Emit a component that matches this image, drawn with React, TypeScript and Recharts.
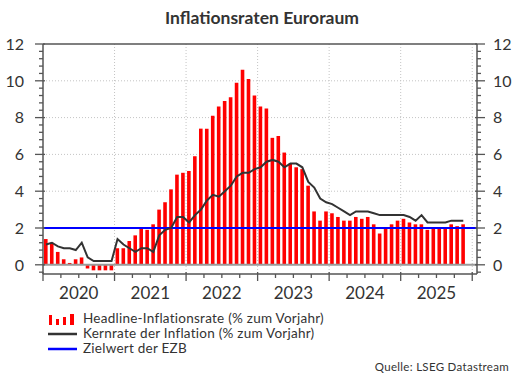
import { ComposedChart, Bar, Line, XAxis, YAxis, CartesianGrid, ReferenceLine } from 'recharts';

// HICP euro area, % yoy, monthly Jan 2020 – Nov 2025
const headline = [
  1.4, 1.2, 0.7, 0.3, 0.1, 0.3, 0.4, -0.2, -0.3, -0.3, -0.3, -0.3,
  0.9, 0.9, 1.3, 1.6, 2.0, 1.9, 2.2, 3.0, 3.4, 4.1, 4.9, 5.0,
  5.1, 5.9, 7.4, 7.4, 8.1, 8.6, 8.9, 9.1, 9.9, 10.6, 10.1, 9.2,
  8.6, 8.5, 6.9, 7.0, 6.1, 5.5, 5.3, 5.2, 4.3, 2.9, 2.4, 2.9,
  2.8, 2.6, 2.4, 2.4, 2.6, 2.5, 2.6, 2.2, 1.7, 2.0, 2.2, 2.4,
  2.5, 2.3, 2.2, 2.2, 1.9, 2.0, 2.0, 2.0, 2.2, 2.1, 2.2,
];

const core = [
  1.1, 1.2, 1.0, 0.9, 0.9, 0.8, 1.2, 0.4, 0.2, 0.2, 0.2, 0.2,
  1.4, 1.1, 0.9, 0.7, 0.9, 0.9, 0.7, 1.6, 1.9, 2.0, 2.6, 2.6,
  2.3, 2.7, 3.0, 3.5, 3.8, 3.7, 4.0, 4.3, 4.8, 5.0, 5.0, 5.2,
  5.3, 5.6, 5.7, 5.6, 5.3, 5.5, 5.5, 5.3, 4.5, 4.2, 3.6, 3.4,
  3.3, 3.1, 2.9, 2.7, 2.9, 2.9, 2.9, 2.8, 2.7, 2.7, 2.7, 2.7,
  2.7, 2.6, 2.4, 2.7, 2.3, 2.3, 2.3, 2.3, 2.4, 2.4, 2.4,
];

const ecbTarget = 2;
const years = ['2020', '2021', '2022', '2023', '2024', '2025'];

// month index ticks (quarters), year boundaries and y ticks
const xTicks = [0, 3, 6, 9, 12, 15, 18, 21, 24, 27, 30, 33, 36, 39, 42, 45, 48, 51, 54, 57, 60, 63, 66, 69, 72];
const yearStarts = [12, 24, 36, 48, 60, 72];
const yTicks = [
  -0.4, 0, 0.4, 0.8, 1.2, 1.6, 2, 2.4, 2.8, 3.2, 3.6, 4, 4.4, 4.8, 5.2, 5.6, 6,
  6.4, 6.8, 7.2, 7.6, 8, 8.4, 8.8, 9.2, 9.6, 10, 10.4, 10.8, 11.2, 11.6, 12,
];
const yGrid = [2, 4, 6, 8, 10];

const data = headline.map((h, i) => ({ m: i + 0.5, headline: h, core: core[i] }));

const AXIS = '#555';
const TEXT = '#333';
const FONT = 'Lato, sans-serif';

function YTick(props: any) {
  const { x, y, payload, side } = props;
  const v = payload.value;
  const major = Math.round(v * 10) % 20 === 0;
  const left = side === 'left';
  const len = major ? 8 : 4;
  return (
    <g>
      <line
        x1={left ? x - len : x + len}
        x2={left ? x + (major ? 2 : 0) : x - (major ? 2 : 0)}
        y1={y}
        y2={y}
        stroke={AXIS}
        strokeWidth={1.3}
      />
      {major && (
        <text
          x={left ? x - 19 : x + 16}
          y={y}
          dy="0.36em"
          textAnchor={left ? 'end' : 'start'}
          fontSize={16}
          fontFamily={FONT}
          fill={TEXT}
        >
          {v}
        </text>
      )}
    </g>
  );
}

function XTick(props: any) {
  const { x, y, payload } = props;
  const v = payload.value;
  const major = v % 12 === 0;
  return (
    <g>
      <line x1={x} x2={x} y1={y - (major ? 2 : 0)} y2={y + (major ? 7 : 4)} stroke={AXIS} strokeWidth={1.3} />
      {v % 12 === 6 && (
        <text x={x} y={y + 25} textAnchor="middle" fontSize={17} fontFamily={FONT} fill={TEXT}>
          {years[(v - 6) / 12]}
        </text>
      )}
    </g>
  );
}

function LegendIcon({ kind }: { kind: string }) {
  if (kind === 'bars') {
    return (
      <svg width={32} height={12}>
        <rect x={2} y={2} width={3} height={10} fill="#ff0000" />
        <rect x={9} y={6} width={3} height={6} fill="#ff0000" />
        <rect x={16} y={4} width={3} height={8} fill="#ff0000" />
        <rect x={23} y={1} width={4} height={11} fill="#ff0000" />
      </svg>
    );
  }
  return (
    <svg width={32} height={12}>
      <line x1={1} x2={30} y1={6} y2={6} stroke={kind === 'core' ? '#333' : '#0000ff'} strokeWidth={2.5} />
    </svg>
  );
}

const legendItems = [
  { kind: 'bars', label: 'Headline-Inflationsrate (% zum Vorjahr)' },
  { kind: 'core', label: 'Kernrate der Inflation (% zum Vorjahr)' },
  { kind: 'target', label: 'Zielwert der EZB' },
];

export default function App() {
  return (
    <div style={{ position: 'absolute', left: 0, top: 0, width: 520, height: 378, background: '#fff', fontFamily: FONT }}>
      <div
        style={{
          position: 'absolute',
          left: 0,
          width: 524,
          top: 7,
          textAlign: 'center',
          fontSize: 17.5,
          fontWeight: 700,
          color: TEXT,
        }}
      >
        Inflationsraten Euroraum
      </div>

      <ComposedChart width={520} height={378} data={data} margin={{ top: 44, right: 23, bottom: 74, left: 23 }}>
        <CartesianGrid
          horizontalValues={yGrid}
          verticalValues={yearStarts}
          stroke="#c4c4c4"
          strokeDasharray="1 2"
        />
        <XAxis
          dataKey="m"
          type="number"
          domain={[0, 72.8]}
          allowDataOverflow
          ticks={xTicks}
          interval={0}
          height={30}
          tickSize={0}
          tickMargin={0}
          tickLine={false}
          axisLine={{ stroke: AXIS, strokeWidth: 1.5 }}
          tick={<XTick />}
        />
        <YAxis
          type="number"
          domain={[-0.5, 12]}
          allowDataOverflow
          ticks={yTicks}
          interval={0}
          width={20}
          tickSize={0}
          tickMargin={0}
          tickLine={false}
          axisLine={{ stroke: AXIS, strokeWidth: 1.5 }}
          tick={<YTick side="left" />}
        />
        <YAxis
          yAxisId="r"
          orientation="right"
          type="number"
          domain={[-0.5, 12]}
          allowDataOverflow
          ticks={yTicks}
          interval={0}
          width={20}
          tickSize={0}
          tickMargin={0}
          tickLine={false}
          axisLine={{ stroke: AXIS, strokeWidth: 1.5 }}
          tick={<YTick side="right" />}
        />
        <ReferenceLine y={12} stroke={AXIS} strokeWidth={1.5} />
        <Bar dataKey="headline" fill="#ff0000" barSize={3.6} isAnimationActive={false} />
        <ReferenceLine y={0} stroke="#9a9a9a" strokeWidth={2} />
        <ReferenceLine y={ecbTarget} stroke="#0000ff" strokeWidth={2} />
        <Line
          dataKey="core"
          type="linear"
          stroke="#333"
          strokeWidth={2}
          dot={false}
          activeDot={false}
          isAnimationActive={false}
        />
      </ComposedChart>

      <div
        style={{
          position: 'absolute',
          left: 47,
          top: 311,
          fontSize: 13.5,
          letterSpacing: 0.25,
          color: TEXT,
          lineHeight: '15px',
        }}
      >
        {legendItems.map((it) => (
          <div key={it.kind} style={{ display: 'flex', alignItems: 'center', height: 15 }}>
            <LegendIcon kind={it.kind} />
            <span style={{ marginLeft: 4 }}>{it.label}</span>
          </div>
        ))}
      </div>

      <div style={{ position: 'absolute', right: 11, top: 360, fontSize: 11.5, letterSpacing: 0.3, color: TEXT }}>
        Quelle: LSEG Datastream
      </div>
    </div>
  );
}
